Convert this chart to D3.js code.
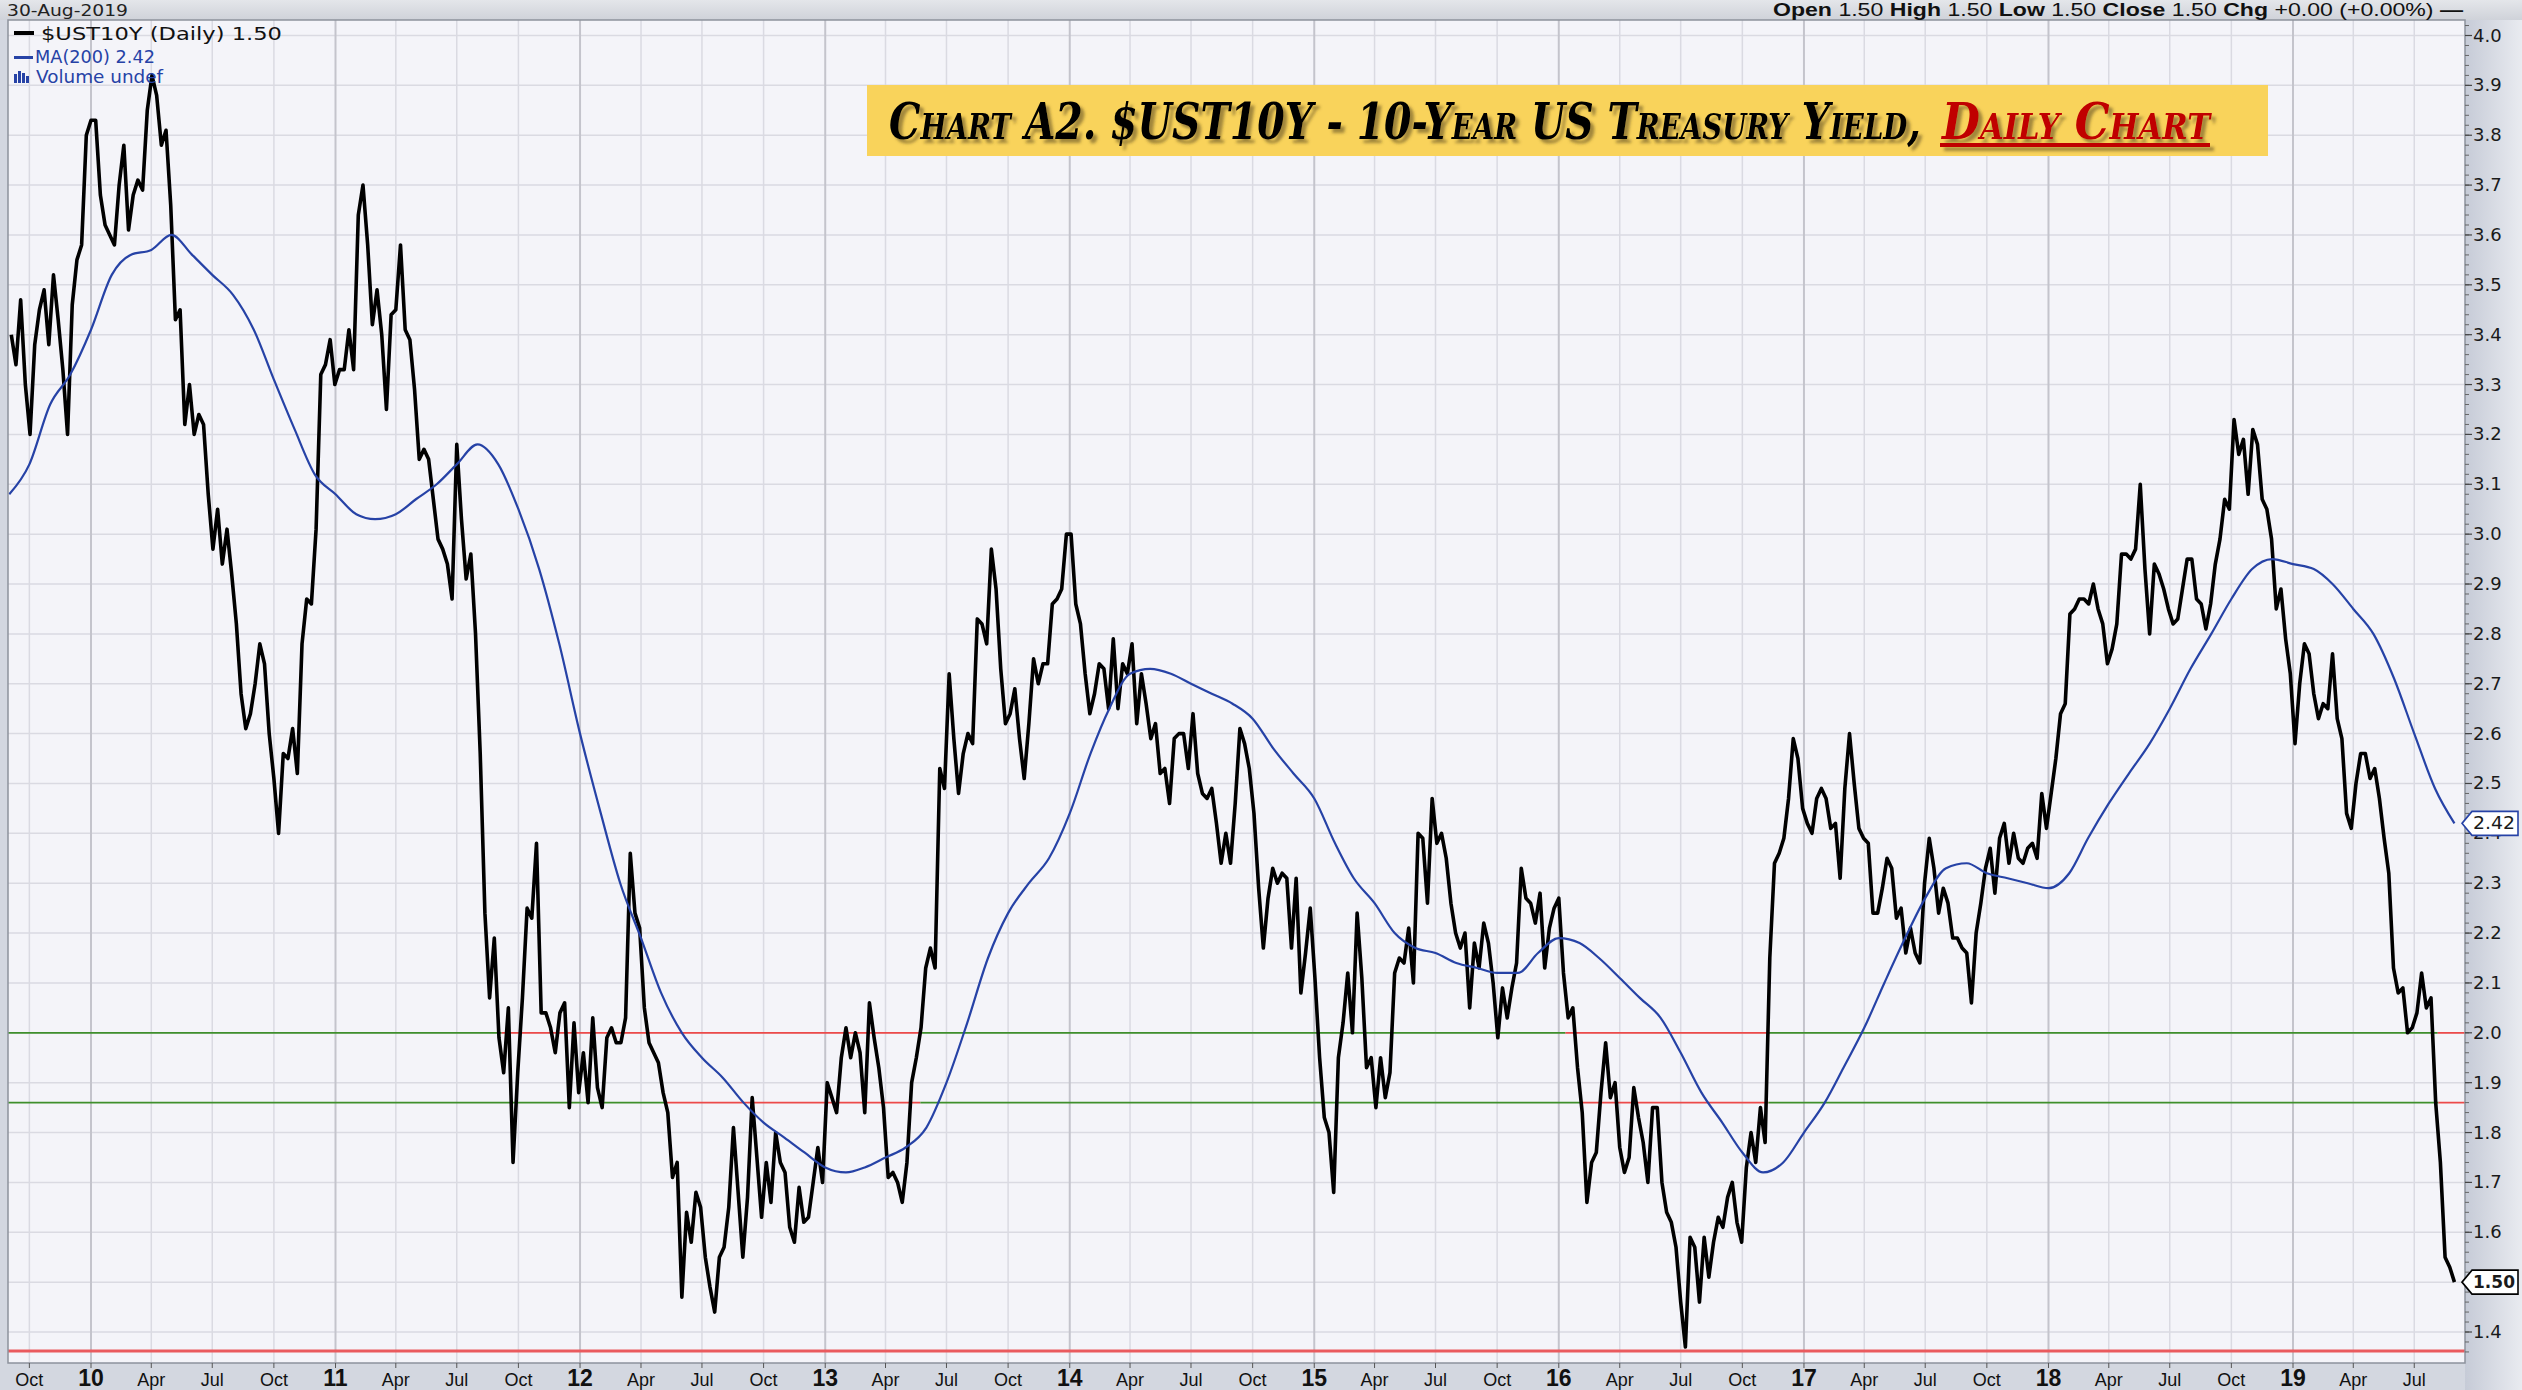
<!DOCTYPE html>
<html lang="en">
<head>
<meta charset="UTF-8">
<title>$UST10Y - 10-Year US Treasury Yield, daily</title>
<script src="https://d3js.org/d3.v7.min.js"></script>
<style>
  body { margin: 0; background: #d6dae3; }
  svg { display: block; }
  .ytick { font-family: "DejaVu Sans", Verdana, sans-serif; font-size: 18px; fill: #1a1a1a; }
  .xtick { font-family: "Liberation Sans Narrow", "Liberation Sans", Arial, sans-serif; font-size: 18px; fill: #111; }
  .xtick.year { font-weight: bold; font-size: 23px; }
  .legend { font-family: "DejaVu Sans", Verdana, sans-serif; }
  .title { font-family: "DejaVu Serif", "Liberation Serif", serif; font-weight: bold; font-style: italic;
           font-variant: small-caps; font-size: 50px; }
</style>
</head>
<body>
<svg width="2522" height="1390"></svg>
<script>
// ---- data: weekly (Friday) closes, one array per year ----
const weekStart = new Date(2009, 8, 4);
const y2009 = [3.40,3.34,3.47,3.30, 3.20,3.38,3.45,3.49,3.38, 3.52,3.43,3.33,3.20, 3.46,3.55,3.58,3.80];
const y2010 = [3.83,3.83,3.68,3.62,3.60, 3.58,3.70,3.78,3.61, 3.68,3.71,3.69,3.85, 3.92,3.88,3.78,3.81,3.66,
               3.43,3.45,3.22,3.30, 3.20,3.24,3.22,3.08, 2.97,3.05,2.94,3.01,2.92, 2.82,2.68,2.61,2.64,
               2.70,2.78,2.74,2.60, 2.51,2.40,2.56,2.55,2.61, 2.52,2.78,2.87,2.86, 3.01,3.32,3.34,3.39,3.30];
const y2011 = [3.33,3.33,3.41,3.33, 3.64,3.70,3.58,3.42, 3.49,3.40,3.25,3.44, 3.45,3.58,3.41,3.39,3.29,
               3.15,3.17,3.15,3.07, 2.99,2.97,2.94,2.87, 3.18,3.03,2.91,2.96,2.80, 2.56,2.24,2.07,2.19,
               1.99,1.92,2.05,1.74,1.92, 2.07,2.25,2.23,2.38, 2.04,2.04,2.01,1.96, 2.04,2.06,1.85,2.02,1.88];
const y2012 = [1.96,1.86,2.03,1.89, 1.85,1.99,2.01,1.98, 1.98,2.03,2.36,2.24,2.21, 2.05,1.98,1.96,1.94,
               1.88,1.84,1.71,1.74, 1.47,1.64,1.58,1.68,1.65, 1.55,1.49,1.44,1.55, 1.57,1.65,1.81,1.68,1.55,
               1.67,1.87,1.75,1.63, 1.74,1.66,1.80,1.74, 1.72,1.61,1.58,1.69,1.62, 1.63,1.70,1.77,1.70];
const y2013 = [1.90,1.87,1.84,1.95, 2.01,1.95,2.00,1.96, 1.84,2.06,1.99,1.93,1.85, 1.71,1.72,1.70,1.66,
               1.74,1.90,1.95,2.01,2.13, 2.17,2.13,2.53,2.49, 2.72,2.59,2.48,2.56, 2.60,2.58,2.83,2.82,2.78,
               2.97,2.89,2.73,2.62, 2.64,2.69,2.59,2.51, 2.62,2.75,2.70,2.74,2.74, 2.86,2.87,2.89,3.00];
const y2014 = [3.00,2.86,2.82,2.72,2.64, 2.68,2.74,2.73,2.65, 2.79,2.65,2.74,2.72, 2.78,2.62,2.72,2.66,
               2.59,2.62,2.52,2.53,2.46, 2.59,2.60,2.60,2.53, 2.64,2.52,2.48,2.47, 2.49,2.42,2.34,2.40,2.34,
               2.46,2.61,2.58,2.53, 2.44,2.29,2.17,2.27,2.33, 2.30,2.32,2.31,2.17, 2.31,2.08,2.16,2.25];
const y2015 = [2.11,1.95,1.83,1.80,1.68, 1.95,2.02,2.12,2.00, 2.24,2.11,1.93,1.95, 1.85,1.95,1.87,1.92,
               2.12,2.15,2.14,2.21,2.10, 2.40,2.39,2.26,2.47, 2.38,2.40,2.35,2.26,2.20, 2.17,2.20,2.05,2.18,
               2.13,2.22,2.18,2.10, 1.99,2.09,2.03,2.09,2.14, 2.33,2.27,2.26,2.22, 2.28,2.13,2.21,2.25];
const y2016 = [2.27,2.12,2.03,2.05,1.93, 1.84,1.66,1.74,1.76, 1.88,1.98,1.87,1.90, 1.77,1.72,1.75,1.89,1.83,
               1.78,1.70,1.85,1.85, 1.70,1.64,1.62,1.57, 1.46,1.37,1.59,1.57,1.46, 1.59,1.51,1.58,1.63,
               1.61,1.67,1.70,1.62,1.58, 1.73,1.80,1.74,1.85, 1.78,2.15,2.34,2.36, 2.39,2.47,2.59,2.55,2.45];
const y2017 = [2.42,2.40,2.47,2.49, 2.47,2.41,2.42,2.31, 2.49,2.60,2.50,2.41,2.39, 2.38,2.24,2.24,2.29,
               2.35,2.33,2.23,2.25, 2.16,2.21,2.16,2.14,2.30, 2.39,2.33,2.24,2.29, 2.26,2.19,2.19,2.17,
               2.16,2.06,2.20,2.26,2.33, 2.37,2.28,2.39,2.42, 2.34,2.40,2.35,2.34, 2.37,2.38,2.35,2.48,2.41];
const y2018 = [2.48,2.55,2.64,2.66, 2.84,2.85,2.87,2.87, 2.86,2.90,2.85,2.82,2.74, 2.77,2.82,2.96,2.96,
               2.95,2.97,3.10,2.93, 2.80,2.94,2.92,2.89,2.85, 2.82,2.83,2.89,2.95, 2.95,2.87,2.86,2.81,2.86,
               2.94,2.99,3.07,3.05, 3.23,3.16,3.19,3.08, 3.21,3.18,3.07,3.05,2.99, 2.85,2.89,2.79,2.72];
const y2019 = [2.58,2.70,2.78,2.76, 2.68,2.63,2.66,2.65, 2.76,2.63,2.59,2.44,2.41, 2.50,2.56,2.56,2.51,
               2.53,2.47,2.39,2.32,2.13, 2.08,2.09,2.00,2.01, 2.04,2.12,2.05,2.07, 1.86,1.74,1.55,1.53,1.50];

// 200-day moving average, read at the start of each month
const maStart = new Date(2009, 8, 1);
const ma2009 = [3.08,3.14,3.26,3.32];
const ma2010 = [3.41,3.52,3.56,3.57,3.60,3.56,3.52,3.48,3.41,3.31,3.21,3.12];
const ma2011 = [3.08,3.04,3.03,3.04,3.07,3.10,3.14,3.18,3.14,3.05,2.93,2.78];
const ma2012 = [2.60,2.44,2.30,2.19,2.08,2.00,1.95,1.91,1.86,1.82,1.79,1.76];
const ma2013 = [1.73,1.72,1.73,1.75,1.77,1.81,1.90,2.02,2.15,2.24,2.30,2.35];
const ma2014 = [2.44,2.56,2.65,2.72,2.73,2.72,2.70,2.68,2.66,2.63,2.57,2.52];
const ma2015 = [2.47,2.38,2.31,2.26,2.20,2.17,2.16,2.14,2.13,2.12,2.12,2.16];
const ma2016 = [2.19,2.18,2.15,2.11,2.07,2.03,1.96,1.88,1.82,1.76,1.72,1.74];
const ma2017 = [1.80,1.86,1.93,2.01,2.10,2.19,2.27,2.33,2.34,2.32,2.31,2.30];
const ma2018 = [2.29,2.32,2.39,2.46,2.52,2.58,2.65,2.73,2.80,2.87,2.93,2.95];
const ma2019 = [2.94,2.93,2.90,2.85,2.80,2.71,2.60,2.49];
const lastDate = new Date(2019, 7, 30);
const lastClose = 1.50, lastMA = 2.42;

// horizontal levels: price above ("up") or below ("down") the level
const level200 = [["2009-08-01","2011-09-06","up"], ["2011-09-06","2013-05-23","down"], ["2013-05-23","2016-01-11","up"],
                  ["2016-01-11","2016-11-09","down"], ["2016-11-09","2019-08-05","up"], ["2019-08-05","2019-10-01","down"]];
const level186 = [["2009-08-01","2012-05-07","up"], ["2012-05-07","2013-05-23","down"], ["2013-05-23","2016-02-04","up"],
                  ["2016-02-04","2016-11-09","down"], ["2016-11-09","2019-08-06","up"], ["2019-08-06","2019-10-01","down"]];
const lowLevel = 1.362;

const yTicks = d3.range(14, 41).map(d => d / 10);
const quarterTicks = d3.timeMonth.range(new Date(2009, 9, 1), new Date(2019, 8, 1), 3);

// ---- build series ----
const yields = [].concat(y2009, y2010, y2011, y2012, y2013, y2014, y2015, y2016, y2017, y2018, y2019);
const price = yields.map((v, i) => ({ date: d3.timeDay.offset(weekStart, 7 * i), value: v }));
const maVals = [].concat(ma2009, ma2010, ma2011, ma2012, ma2013, ma2014, ma2015, ma2016, ma2017, ma2018, ma2019);
const ma = maVals.map((v, i) => ({ date: d3.timeMonth.offset(maStart, i), value: v }));
ma.push({ date: lastDate, value: lastMA });

// ---- layout ----
const svg = d3.select("svg");
const plot = { left: 8, right: 2465, top: 20, bottom: 1363 };

const x = d3.scaleTime()
  .domain([new Date(2010, 0, 1), new Date(2019, 0, 1)])
  .range([91, 2293]);
const y = d3.scaleLinear()
  .domain([1.4, 4.0])
  .range([1332, 35.5]);

const defs = svg.append("defs");
const rg = defs.append("linearGradient").attr("id", "rightGrad");
rg.append("stop").attr("offset", "0").attr("stop-color", "#c6cbd7");
rg.append("stop").attr("offset", "1").attr("stop-color", "#e9ebf0");
const tg = defs.append("linearGradient").attr("id", "topGrad").attr("x2", 0).attr("y2", 1);
tg.append("stop").attr("offset", "0").attr("stop-color", "#e4e6ea");
tg.append("stop").attr("offset", "1").attr("stop-color", "#cfd2d9");
defs.append("clipPath").attr("id", "plotClip")
  .append("rect")
  .attr("x", plot.left).attr("y", plot.top)
  .attr("width", plot.right - plot.left).attr("height", plot.bottom - plot.top);
defs.append("filter").attr("id", "shadow")
  .attr("x", "-5%").attr("y", "-30%").attr("width", "110%").attr("height", "160%")
  .append("feDropShadow")
  .attr("dx", 4).attr("dy", 4).attr("stdDeviation", 1.5)
  .attr("flood-color", "#5a4a20").attr("flood-opacity", 0.55);

// outer panels
svg.append("rect").attr("width", 2522).attr("height", 1390).attr("fill", "#d3d7e0");
svg.append("rect").attr("width", 2522).attr("height", plot.top).attr("fill", "url(#topGrad)");
svg.append("rect").attr("x", plot.right).attr("y", plot.top)
  .attr("width", 2522 - plot.right).attr("height", 1390 - plot.top).attr("fill", "url(#rightGrad)");

// plot area
svg.append("rect")
  .attr("x", plot.left).attr("y", plot.top)
  .attr("width", plot.right - plot.left).attr("height", plot.bottom - plot.top)
  .attr("fill", "#f4f4f9");

const g = svg.append("g").attr("clip-path", "url(#plotClip)");

// grid
g.selectAll(".hgrid").data(yTicks).enter().append("line")
  .attr("x1", plot.left).attr("x2", plot.right)
  .attr("y1", d => y(d)).attr("y2", d => y(d))
  .attr("stroke", "#dadae2").attr("stroke-width", 1.5);
g.selectAll(".vgrid").data(quarterTicks).enter().append("line")
  .attr("x1", d => x(d)).attr("x2", d => x(d))
  .attr("y1", plot.top).attr("y2", plot.bottom)
  .attr("stroke", d => d.getMonth() === 0 ? "#c4c4cc" : "#dadae2")
  .attr("stroke-width", d => d.getMonth() === 0 ? 2 : 1.5);

// title box
const tb = svg.append("g");
tb.append("rect").attr("x", 867).attr("y", 85).attr("width", 1401).attr("height", 71).attr("fill", "#f9d35b");
const tt = tb.append("g").attr("filter", "url(#shadow)");
tt.append("text").attr("class", "title").attr("x", 889).attr("y", 139)
  .attr("textLength", 1032).attr("lengthAdjust", "spacingAndGlyphs")
  .attr("fill", "#000").text("Chart A2. $UST10Y - 10-Year US Treasury Yield,");
tt.append("text").attr("class", "title").attr("x", 1942).attr("y", 139)
  .attr("textLength", 268).attr("lengthAdjust", "spacingAndGlyphs")
  .attr("fill", "#c00000").text("Daily Chart");
tt.append("line").attr("x1", 1940).attr("x2", 2210).attr("y1", 145).attr("y2", 145)
  .attr("stroke", "#c00000").attr("stroke-width", 4);

// level lines
const levelColor = { up: "#3f8f2c", down: "#ec4a4a" };
function drawLevel(segs, v) {
  g.selectAll(null).data(segs).enter().append("line")
    .attr("x1", d => x(new Date(d[0]))).attr("x2", d => x(new Date(d[1])))
    .attr("y1", y(v)).attr("y2", y(v))
    .attr("stroke", d => levelColor[d[2]]).attr("stroke-width", 1.8);
}
drawLevel(level200, 2.0);
drawLevel(level186, 1.86);
g.append("line").attr("x1", plot.left).attr("x2", plot.right)
  .attr("y1", y(lowLevel)).attr("y2", y(lowLevel))
  .attr("stroke", "#ea5a5e").attr("stroke-width", 3);

// price and MA
g.append("path").datum(price)
  .attr("fill", "none").attr("stroke", "#000").attr("stroke-width", 3.6)
  .attr("stroke-linejoin", "round")
  .attr("d", d3.line().x(d => x(d.date)).y(d => y(d.value)));
g.append("path").datum(ma)
  .attr("fill", "none").attr("stroke", "#2642a6").attr("stroke-width", 2.2)
  .attr("d", d3.line().curve(d3.curveMonotoneX).x(d => x(d.date)).y(d => y(d.value)));

// plot frame
svg.append("rect")
  .attr("x", plot.left).attr("y", plot.top)
  .attr("width", plot.right - plot.left).attr("height", plot.bottom - plot.top)
  .attr("fill", "none").attr("stroke", "#8d929c").attr("stroke-width", 1.5);

// right axis
const yAxis = svg.append("g");
yAxis.selectAll(".minor").data(d3.range(136, 403, 2).map(d => d / 100)).enter().append("line")
  .attr("x1", plot.right).attr("x2", plot.right + 4)
  .attr("y1", d => y(d)).attr("y2", d => y(d))
  .attr("stroke", "#666").attr("stroke-width", 1);
yAxis.selectAll(".major").data(yTicks).enter().append("line")
  .attr("x1", plot.right).attr("x2", plot.right + 7)
  .attr("y1", d => y(d)).attr("y2", d => y(d))
  .attr("stroke", "#444").attr("stroke-width", 1.2);
yAxis.selectAll("text").data(yTicks.filter(d => d !== 1.5)).enter().append("text")
  .attr("class", "ytick")
  .attr("x", plot.right + 8).attr("y", d => y(d) + 6)
  .text(d3.format(".1f"));

// value tags (the last close tag sits on top of the 1.5 tick label)
function tag(v, label, color, bold) {
  const x0 = plot.right - 3, yv = y(v);
  svg.append("path")
    .attr("d", `M${x0},${yv} L${x0 + 10},${yv - 12} L${x0 + 56},${yv - 12} L${x0 + 56},${yv + 12} L${x0 + 10},${yv + 12} Z`)
    .attr("fill", "#fff").attr("stroke", color).attr("stroke-width", 1.6);
  svg.append("text").attr("class", "ytick")
    .attr("x", x0 + 11).attr("y", yv + 6)
    .attr("font-size", 17)
    .attr("textLength", 42).attr("lengthAdjust", "spacingAndGlyphs")
    .attr("fill", color).attr("font-weight", bold ? "bold" : "normal")
    .text(label);
}
tag(lastMA, d3.format(".2f")(lastMA), "#2642a6", false);
tag(lastClose, d3.format(".2f")(lastClose), "#000", true);

// bottom axis
const xAxis = svg.append("g");
xAxis.selectAll("line").data(quarterTicks).enter().append("line")
  .attr("x1", d => x(d)).attr("x2", d => x(d))
  .attr("y1", plot.bottom).attr("y2", plot.bottom + 5)
  .attr("stroke", "#555");
xAxis.selectAll("text").data(quarterTicks).enter().append("text")
  .attr("class", d => d.getMonth() === 0 ? "xtick year" : "xtick")
  .attr("x", d => x(d)).attr("y", 1386)
  .attr("text-anchor", "middle")
  .text(d => d.getMonth() === 0 ? d3.timeFormat("%y")(d) : d3.timeFormat("%b")(d));

// header
svg.append("text").attr("class", "legend").attr("x", 7).attr("y", 16)
  .attr("font-size", 16).attr("fill", "#222")
  .attr("textLength", 121).attr("lengthAdjust", "spacingAndGlyphs")
  .text("30-Aug-2019");
const hdr = svg.append("text")
  .attr("x", 2463).attr("y", 16).attr("text-anchor", "end")
  .attr("font-family", "'Liberation Sans Narrow', 'Liberation Sans', Arial, sans-serif")
  .attr("font-size", 18).attr("fill", "#111")
  .attr("textLength", 690).attr("lengthAdjust", "spacingAndGlyphs");
[["Open", " 1.50  "], ["High", " 1.50  "], ["Low", " 1.50  "], ["Close", " 1.50  "], ["Chg", " +0.00 (+0.00%) "]]
  .forEach(p => {
    hdr.append("tspan").attr("font-weight", "bold").text(p[0]);
    hdr.append("tspan").text(p[1]);
  });
hdr.append("tspan").attr("font-weight", "bold").text("\u2014");

// legend
const lg = svg.append("g").attr("class", "legend");
lg.append("rect").attr("x", 14).attr("y", 31).attr("width", 20).attr("height", 4).attr("fill", "#000");
lg.append("text").attr("x", 41).attr("y", 40).attr("font-size", 18).attr("fill", "#111")
  .attr("textLength", 241).attr("lengthAdjust", "spacingAndGlyphs")
  .text("$UST10Y (Daily) " + d3.format(".2f")(lastClose));
lg.append("rect").attr("x", 14).attr("y", 56).attr("width", 19).attr("height", 3).attr("fill", "#2642a6");
lg.append("text").attr("x", 35).attr("y", 63).attr("font-size", 17).attr("fill", "#2642a6")
  .attr("textLength", 120).attr("lengthAdjust", "spacingAndGlyphs")
  .text("MA(200) " + d3.format(".2f")(lastMA));
[[14, 74], [18, 71], [22, 73], [26, 76]].forEach(b => {
  lg.append("rect").attr("x", b[0]).attr("y", b[1]).attr("width", 3).attr("height", 83 - b[1]).attr("fill", "#2642a6");
});
lg.append("text").attr("x", 36).attr("y", 83).attr("font-size", 17).attr("fill", "#2642a6")
  .attr("textLength", 127).attr("lengthAdjust", "spacingAndGlyphs")
  .text("Volume undef");
</script>
</body>
</html>
